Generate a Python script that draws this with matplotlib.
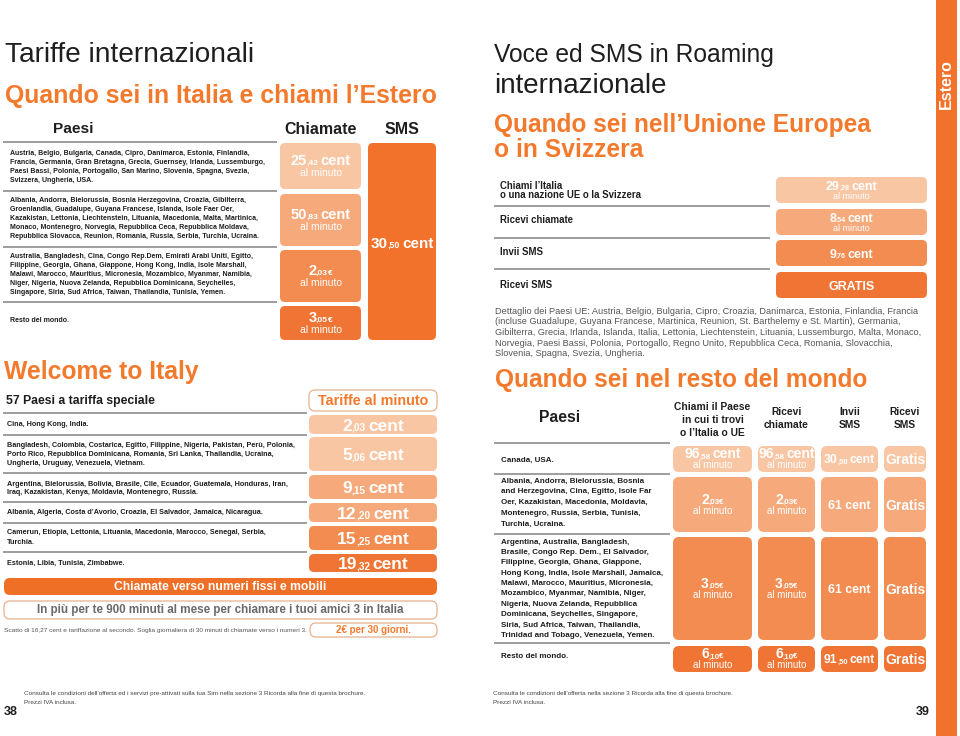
import re
import matplotlib
matplotlib.use("Agg")
import matplotlib.pyplot as plt
from matplotlib.patches import FancyBboxPatch, Rectangle

plt.rcParams['font.family'] = ['Liberation Sans', 'DejaVu Sans']

# ---- data ----
top_headers = ["Paesi", "Chiamate", "SMS"]
top_countries = [
    ["Austria, Belgio, Bulgaria, Canada, Cipro, Danimarca, Estonia, Finlandia,",
     "Francia, Germania, Gran Bretagna, Grecia, Guernsey, Irlanda, Lussemburgo,",
     "Paesi Bassi, Polonia, Portogallo, San Marino, Slovenia, Spagna, Svezia,",
     "Svizzera, Ungheria, USA."],
    ["Albania, Andorra, Bielorussia, Bosnia Herzegovina, Croazia, Gibilterra,",
     "Groenlandia, Guadalupe, Guyana Francese, Islanda, Isole Faer Oer,",
     "Kazakistan, Lettonia, Liechtenstein, Lituania, Macedonia, Malta, Martinica,",
     "Monaco, Montenegro, Norvegia, Repubblica Ceca, Repubblica Moldava,",
     "Repubblica Slovacca, Reunion, Romania, Russia, Serbia, Turchia, Ucraina."],
    ["Australia, Bangladesh, Cina, Congo Rep.Dem, Emirati Arabi Uniti, Egitto,",
     "Filippine, Georgia, Ghana, Giappone, Hong Kong, India, Isole Marshall,",
     "Malawi, Marocco, Mauritius, Micronesia, Mozambico, Myanmar, Namibia,",
     "Niger, Nigeria, Nuova Zelanda, Repubblica Dominicana, Seychelles,",
     "Singapore, Siria, Sud Africa, Taiwan, Thailandia, Tunisia, Yemen."],
    ["Resto del mondo."],
]
top_calls = ["25,42 cent", "50,83 cent", "2,03€", "3,05€"]
top_sms = "30,50 cent"

welcome_countries = [
    ["Cina, Hong Kong, India."],
    ["Bangladesh, Colombia, Costarica, Egitto, Filippine, Nigeria, Pakistan, Perù, Polonia,",
     "Porto Rico, Repubblica Dominicana, Romania, Sri Lanka, Thailandia, Ucraina,",
     "Ungheria, Uruguay, Venezuela, Vietnam."],
    ["Argentina, Bielorussia, Bolivia, Brasile, Cile, Ecuador, Guatemala, Honduras, Iran,",
     "Iraq, Kazakistan, Kenya, Moldavia, Montenegro, Russia."],
    ["Albania, Algeria, Costa d’Avorio, Croazia, El Salvador, Jamaica, Nicaragua."],
    ["Camerun, Etiopia, Lettonia, Lituania, Macedonia, Marocco, Senegal, Serbia,",
     "Turchia."],
    ["Estonia, Libia, Tunisia, Zimbabwe."],
]
welcome_rates = ["2,03 cent", "5,06 cent", "9,15 cent", "12,20 cent", "15,25 cent", "19,32 cent"]

eu_rows = [["Chiami l’Italia", "o una nazione UE o la Svizzera"],
           ["Ricevi chiamate"], ["Invii SMS"], ["Ricevi SMS"]]
eu_rates = ["29,28 cent", "8.54 cent", "9,76 cent", "GRATIS"]
eu_units = ["al minuto", "al minuto", "", ""]
eu_detail = [
    "Dettaglio dei Paesi UE: Austria, Belgio, Bulgaria, Cipro, Croazia, Danimarca, Estonia, Finlandia, Francia",
    "(incluse Guadalupe, Guyana Francese, Martinica, Reunion, St. Barthelemy e St. Martin), Germania,",
    "Gibilterra, Grecia, Irlanda, Islanda, Italia, Lettonia, Liechtenstein, Lituania, Lussemburgo, Malta, Monaco,",
    "Norvegia, Paesi Bassi, Polonia, Portogallo, Regno Unito, Repubblica Ceca, Romania, Slovacchia,",
    "Slovenia, Spagna, Svezia, Ungheria.",
]

world_headers = [["Chiami il Paese", "in cui ti trovi", "o l’Italia o UE"],
                 ["Ricevi", "chiamate"], ["Invii", "SMS"], ["Ricevi", "SMS"]]
world_countries = [
    ["Canada, USA."],
    ["Albania, Andorra, Bielorussia, Bosnia",
     "and Herzegovina, Cina, Egitto, Isole Far",
     "Oer, Kazakistan, Macedonia, Moldavia,",
     "Montenegro, Russia, Serbia, Tunisia,",
     "Turchia, Ucraina."],
    ["Argentina, Australia, Bangladesh,",
     "Brasile, Congo Rep. Dem., El Salvador,",
     "Filippine, Georgia, Ghana, Giappone,",
     "Hong Kong, India, Isole Marshall, Jamaica,",
     "Malawi, Marocco, Mauritius, Micronesia,",
     "Mozambico, Myanmar, Namibia, Niger,",
     "Nigeria, Nuova Zelanda, Repubblica",
     "Dominicana, Seychelles, Singapore,",
     "Siria, Sud Africa, Taiwan, Thailandia,",
     "Trinidad and Tobago, Venezuela, Yemen."],
    ["Resto del mondo."],
]
world_rates = [
    ["96,58 cent", "96,58 cent", "30,50 cent", "Gratis"],
    ["2,03€", "2,03€", "61 cent", "Gratis"],
    ["3,05€", "3,05€", "61 cent", "Gratis"],
    ["6,10€", "6,10€", "91,50 cent", "Gratis"],
]
world_units = ["al minuto", "al minuto", "", ""]

# ---- style ----
ORANGE = '#f37a2c'
BAR = '#f2722b'
shades = ['#f9c6a3', '#f6aa7c', '#f38c50', '#f07534']
LINE = '#8c8c8c'
EDGE = '#e6b28f'
TXT = '#1e1e1e'

fig = plt.figure(figsize=(9.6, 7.36), dpi=100)
ax = fig.add_axes([0, 0, 1, 1])
ax.set_xlim(0, 960)
ax.set_ylim(736, 0)
ax.axis('off')
renderer = fig.canvas.get_renderer()


def rbox(x0, y0, x1, y1, fc, ec='none', lw=0.8, r=5):
    ax.add_patch(FancyBboxPatch((x0, y0), x1 - x0, y1 - y0,
                                boxstyle=f"round,pad=0,rounding_size={r}",
                                fc=fc, ec=ec, lw=lw))


def hline(y, x0, x1):
    ax.plot([x0, x1], [y, y], color=LINE, lw=1.2, solid_capstyle='butt')


def fit(t, width):
    w = t.get_window_extent(renderer).width
    t.set_fontsize(t.get_fontsize() * width / w)
    return t.get_fontsize()


def fit_group(texts, ref, width):
    s = fit(ref, width)
    for t in texts:
        t.set_fontsize(s)


def block(x, y0, dy, rows, size=6, **kw):
    kw.setdefault('color', TXT)
    return [ax.text(x, y0 + i * dy, r, fontsize=size, va='center', **kw)
            for i, r in enumerate(rows)]


def price(xc, yc, s, size, color='white', ratio=0.58):
    m = re.match(r'^(\d+)([,.]\d+)(.*)$', s)
    if m:
        tail = m.group(3).strip()
        parts = [(m.group(1), size, 0), (m.group(2), size * ratio, -0.06 * size)]
        if tail == '€':
            parts.append((tail, size * ratio, 0))
        elif tail:
            parts.append((tail, size, 0.22 * size))
    else:
        parts = [(s, size, 0)]
    base = yc + 0.5 * size
    objs, total = [], 0
    for txt, sz, gap in parts:
        t = ax.text(0, base, txt, fontsize=sz, fontweight='bold', color=color,
                    ha='left', va='baseline')
        w = t.get_window_extent(renderer).width
        objs.append((t, w, gap))
        total += w + gap
    x = xc - total / 2
    for t, w, gap in objs:
        x += gap
        t.set_x(x)
        x += w


# ================= LEFT PAGE =================
t = ax.text(5, 55, "Tariffe internazionali", fontsize=20, va='center', color=TXT)
fit(t, 248)
t = ax.text(5, 96, "Quando sei in Italia e chiami l’Estero", fontsize=18,
            va='center', color=ORANGE, fontweight='bold')
fit(t, 432)

hx = [73, 321, 402]
hw = [40, 72, 35]
for x, h, w in zip(hx, top_headers, hw):
    t = ax.text(x, 129, h, fontsize=13, ha='center', va='center', color=TXT,
                fontweight='bold')
    fit(t, w)

top_lines = [142, 191, 247, 302]
top_text_y = [153.3, 200.7, 256.7, 321]
top_boxes = [(143, 189), (194, 246), (250, 302), (306, 340)]
grp = []
for y in top_lines:
    hline(y, 3, 277)
for y0, rows in zip(top_text_y, top_countries):
    grp += block(10, y0, 9, rows, fontweight='bold')
fit_group(grp, grp[1], 258)

for i, ((y0, y1), val) in enumerate(zip(top_boxes, top_calls)):
    rbox(280, y0, 361, y1, shades[i])
    yc = (y0 + y1) / 2
    price(320.5, yc - 6, val, 10.5)
    ax.text(320.5, yc + 7, "al minuto", fontsize=7.5, ha='center', va='center', color='white')
rbox(368, 143, 436, 340, BAR)
price(402, 242, top_sms, 11)

# Welcome to Italy
t = ax.text(4, 372, "Welcome to Italy", fontsize=18, va='center', color=ORANGE,
            fontweight='bold')
fit(t, 195)
t = ax.text(6, 400.7, "57 Paesi a tariffa speciale", fontsize=10, va='center', color=TXT,
            fontweight='bold')
fit(t, 149)
rbox(309, 390, 437, 411, 'white', ec=EDGE, lw=0.9, r=6)
t = ax.text(373, 400.7, "Tariffe al minuto", fontsize=10, ha='center', va='center',
            color=ORANGE, fontweight='bold')
fit(t, 110)

wel_lines = [413, 435, 473, 502, 523, 552]
wel_text_y = [425, 445.7, 484, 513, 533, 563]
wel_boxes = [(415, 434), (437, 471), (475, 499), (503, 522), (526, 550), (554, 572)]
wel_shade = [0, 0, 1, 1, 2, 3]
grp = []
for y in wel_lines:
    hline(y, 3, 307)
for y0, rows in zip(wel_text_y, welcome_countries):
    grp += block(7, y0, 9, rows, fontweight='bold')
fit_group(grp, grp[1], 295)
for (y0, y1), val, k in zip(wel_boxes, welcome_rates, wel_shade):
    rbox(309, y0, 437, y1, shades[k])
    price(373, (y0 + y1) / 2, val, 12.5)

rbox(4, 578, 437, 595, '#f06f26', r=6)
t = ax.text(220, 586.5, "Chiamate verso numeri fissi e mobili", fontsize=10,
            ha='center', va='center', color='white', fontweight='bold')
fit(t, 211)
rbox(4, 601, 437, 619, 'white', ec=EDGE, lw=0.9, r=6)
t = ax.text(220, 610, "In più per te 900 minuti al mese per chiamare i tuoi amici 3 in Italia",
            fontsize=10, ha='center', va='center', color='#6a6a6a', fontweight='bold')
fit(t, 366)
t = ax.text(4, 630.5, "Scatto di 16,27 cent e tariffazione al secondo. Soglia giornaliera di 30 "
            "minuti di chiamate verso i numeri 3.", fontsize=4, va='center', color='#555555')
fit(t, 299)
rbox(310, 623, 437, 637, 'white', ec=EDGE, lw=0.9, r=6)
t = ax.text(374, 630, "2€ per 30 giorni.", fontsize=8, ha='center', va='center',
            color=ORANGE, fontweight='bold')
fit(t, 75)

foot = block(24, 694, 9, ["Consulta le condizioni dell’offerta ed i servizi pre-attivati sulla tua "
                          "Sim nella sezione 3 Ricorda alla fine di questa brochure.",
                          "Prezzi IVA inclusa."], color='#444444')
fit_group(foot, foot[0], 347)
ax.text(4, 712, "38", fontsize=9, va='center', color=TXT, fontweight='bold')

# ================= RIGHT PAGE =================
ax.add_patch(Rectangle((936, 0), 21, 736, fc=BAR, ec='none'))
ax.text(946.5, 84, "Estero", fontsize=11.5, rotation=90, ha='center', va='center',
        color='white', fontweight='bold')

t = ax.text(494, 55, "Voce ed SMS in Roaming", fontsize=18, va='center', color=TXT)
fit(t, 281)
t = ax.text(494, 86, "internazionale", fontsize=18, va='center', color=TXT)
fit(t, 173)
t = ax.text(494, 125, "Quando sei nell’Unione Europea", fontsize=18, va='center',
            color=ORANGE, fontweight='bold')
fit(t, 378)
t = ax.text(494, 150, "o in Svizzera", fontsize=18, va='center', color=ORANGE,
            fontweight='bold')
fit(t, 149)

eu_text_y = [185.7, 220, 251.7, 285]
eu_lines = [205.7, 238.3, 269.3]
eu_boxes = [(177, 203), (209, 235), (240, 266), (272, 298)]
for y in eu_lines:
    hline(y, 494, 770)
grp = []
for y0, rows in zip(eu_text_y, eu_rows):
    grp += block(500, y0, 9.6, rows, fontweight='bold')
fit_group(grp, grp[1], 144)
for i, ((y0, y1), val, unit) in enumerate(zip(eu_boxes, eu_rates, eu_units)):
    rbox(776, y0, 927, y1, shades[i])
    yc = (y0 + y1) / 2
    if unit:
        price(851.5, yc - 4.5, val, 9)
        ax.text(851.5, yc + 6.5, unit, fontsize=6.5, ha='center', va='center', color='white')
    else:
        price(851.5, yc, val, 9)

det = block(495, 311, 10.7, eu_detail, color='#555555')
fit_group(det, det[0], 422)

t = ax.text(495, 380, "Quando sei nel resto del mondo", fontsize=18, va='center',
            color=ORANGE, fontweight='bold')
fit(t, 374)

t = ax.text(560, 418, "Paesi", fontsize=13, ha='center', va='center', color=TXT,
            fontweight='bold')
fit(t, 41)
col_x = [(673, 752), (758, 815), (821, 878), (884, 926)]
grp = []
for (x0, x1), rows in zip(col_x, world_headers):
    y0 = 406.7 if len(rows) == 3 else 411.7
    grp += block((x0 + x1) / 2, y0, 13.3, rows, ha='center', fontweight='bold')
fit_group(grp, grp[0], 77)

for y in [443, 474, 534, 643]:
    hline(y, 494, 670)
world_text_y = [460, 481, 542.3, 656.7]
world_dy = [10, 10.75, 10.33, 10]
grp = []
for y0, dy, rows in zip(world_text_y, world_dy, world_countries):
    grp += block(501, y0, dy, rows, fontweight='bold')
fit_group(grp, grp[1 + 5 + 3], 164)

row_y = [(446, 472), (477, 532), (537, 640), (646, 672)]
for r, ((y0, y1), vals) in enumerate(zip(row_y, world_rates)):
    yc = (y0 + y1) / 2
    for c, ((x0, x1), val, unit) in enumerate(zip(col_x, vals, world_units)):
        rbox(x0, y0, x1, y1, shades[r], r=6)
        xc = (x0 + x1) / 2
        if unit:
            price(xc, yc - 5.5, val, 10)
            ax.text(xc, yc + 6, unit, fontsize=7, ha='center', va='center', color='white')
        else:
            price(xc, yc, val, 10 if c == 3 else 8.8, ratio=0.62)

foot = block(493, 693, 9, ["Consulta le condizioni dell’offerta nella sezione 3 Ricorda alla "
                           "fine di questa brochure.", "Prezzi IVA inclusa."], color='#444444')
fit_group(foot, foot[0], 246)
ax.text(930, 712, "39", fontsize=9, ha='right', va='center', color=TXT, fontweight='bold')

fig.savefig("out.png", dpi=100)
